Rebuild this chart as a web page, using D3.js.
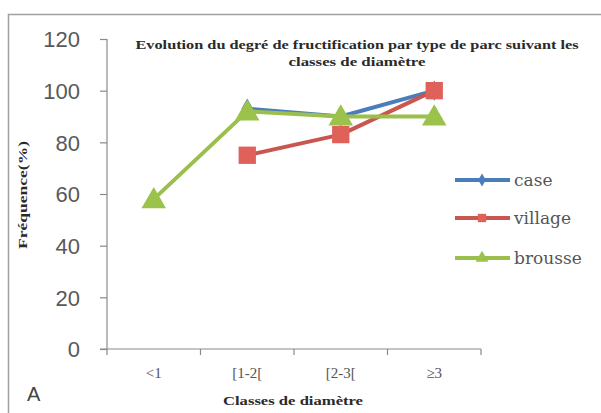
<!DOCTYPE html>
<html><head><meta charset="utf-8">
<script src="https://cdn.jsdelivr.net/npm/d3@7"></script>
<style>body{margin:0;background:#fff}svg{display:block}</style>
</head><body>
<script>
const categories = ["<1", "[1-2[", "[2-3[", "≥3"];
const seriesNames = ["case", "village", "brousse"];
const caseValues = [null, 93, 90, 100];
const villageValues = [null, 75, 83, 100];
const brousseValues = [58, 92, 90, 90];
const yTicks = [0, 20, 40, 60, 80, 100, 120];
const titleLines = ["Evolution du degré de fructification par type de parc suivant les", "classes de diamètre"];

const W = 601, H = 413;
const svg = d3.select("body").append("svg").attr("width", W).attr("height", H);
svg.append("rect").attr("x", 8.5).attr("y", 14.5).attr("width", 600).attr("height", 410)
  .attr("fill", "#fff").attr("stroke", "#a0a0a0").attr("stroke-width", 1.5);

const x = d3.scaleBand().domain(categories).range([107, 481]);
const y = d3.scaleLinear().domain([0, 120]).range([349, 39]);

const axisColor = "#8a8a8a";
// Y axis
const gy = svg.append("g").attr("transform", "translate(107,0)")
  .call(d3.axisLeft(y).tickValues(yTicks).tickSize(7).tickPadding(20));
gy.selectAll("path,line").attr("stroke", axisColor).attr("stroke-width", 1.2);
gy.select("path").attr("d", `M0,${y(120)}V${y(0)}`);
gy.selectAll("text").attr("font-family", "'Liberation Sans', Arial, sans-serif")
  .attr("font-size", 22).attr("fill", "#595959").attr("dy", "0.36em");

// X axis
const gx = svg.append("g").attr("transform", "translate(0,349)")
  .call(d3.axisBottom(x).tickSize(0).tickPadding(18));
gx.select("path").attr("stroke", axisColor).attr("stroke-width", 1.2).attr("d", "M100,0H481");
gx.selectAll("text").attr("font-family", "'Liberation Serif', 'DejaVu Serif', serif")
  .attr("font-size", 15).attr("fill", "#555");
const bounds = categories.map(c => x(c)).concat([x.range()[1]]);
svg.append("g").selectAll("line").data(bounds).join("line")
  .attr("x1", d => d).attr("x2", d => d).attr("y1", 349).attr("y2", 355)
  .attr("stroke", axisColor).attr("stroke-width", 1.2);

const cx = c => x(c) + x.bandwidth() / 2;
const colors = { case: "#4a7ebb", village: "#c9564f", brousse: "#9bbf4d" };
const fills = { case: "#4a7ebb", village: "#e0615a", brousse: "#9bc24a" };
const data = { case: caseValues, village: villageValues, brousse: brousseValues };

const line = d3.line().defined(d => d.v != null).x(d => cx(d.c)).y(d => y(d.v));
const symbols = { case: d3.symbolDiamond, village: d3.symbolSquare, brousse: d3.symbolTriangle };
const sizes = { case: 120, village: 300, brousse: 260 };

seriesNames.forEach(name => {
  const pts = categories.map((c, i) => ({ c, v: data[name][i] }));
  svg.append("path").datum(pts).attr("d", line).attr("fill", "none")
    .attr("stroke", colors[name]).attr("stroke-width", 4).attr("stroke-linejoin", "round");
  svg.append("g").selectAll("path").data(pts.filter(d => d.v != null)).join("path")
    .attr("transform", d => `translate(${cx(d.c)},${y(d.v) + (name === "brousse" ? 2 : 0)})`)
    .attr("d", d3.symbol().type(symbols[name]).size(sizes[name]))
    .attr("fill", fills[name]);
});

// Legend
const legY = [180, 218, 258];
seriesNames.forEach((name, i) => {
  const g = svg.append("g").attr("transform", `translate(0,${legY[i]})`);
  g.append("line").attr("x1", 455).attr("x2", 510).attr("y1", 0).attr("y2", 0)
    .attr("stroke", colors[name]).attr("stroke-width", 4);
  g.append("path").attr("transform", "translate(482,0)")
    .attr("d", d3.symbol().type(symbols[name]).size(name === "case" ? 50 : 70)).attr("fill", fills[name]);
  g.append("text").attr("x", 514).attr("y", 0).attr("dy", "0.35em")
    .attr("font-family", "'DejaVu Serif', serif").attr("font-size", 17).attr("fill", "#555")
    .text(name);
});

// Title
const tfont = "'Liberation Serif', 'DejaVu Serif', serif";
svg.append("text").attr("x", 357).attr("y", 49).attr("text-anchor", "middle")
  .attr("font-family", tfont).attr("font-weight", "bold").attr("font-size", 12.5).attr("fill", "#2a2a2a")
  .attr("textLength", 443).attr("lengthAdjust", "spacingAndGlyphs").text(titleLines[0]);
svg.append("text").attr("x", 357).attr("y", 66).attr("text-anchor", "middle")
  .attr("font-family", tfont).attr("font-weight", "bold").attr("font-size", 12.5).attr("fill", "#2a2a2a")
  .attr("textLength", 137).attr("lengthAdjust", "spacingAndGlyphs").text(titleLines[1]);

// Axis titles
svg.append("text").attr("x", 293).attr("y", 405).attr("text-anchor", "middle")
  .attr("font-family", tfont).attr("font-weight", "bold").attr("font-size", 12.5).attr("fill", "#2a2a2a")
  .attr("textLength", 140).attr("lengthAdjust", "spacingAndGlyphs").text("Classes de diamètre");
svg.append("text").attr("transform", "translate(27,195) rotate(-90)").attr("text-anchor", "middle")
  .attr("font-family", tfont).attr("font-weight", "bold").attr("font-size", 12.5).attr("fill", "#2a2a2a")
  .attr("textLength", 108).attr("lengthAdjust", "spacingAndGlyphs").text("Fréquence(%)");

svg.append("text").attr("x", 27).attr("y", 401).attr("font-family", "'Liberation Sans', Arial, sans-serif")
  .attr("font-size", 20).attr("fill", "#444").text("A");
</script>
</body></html>
